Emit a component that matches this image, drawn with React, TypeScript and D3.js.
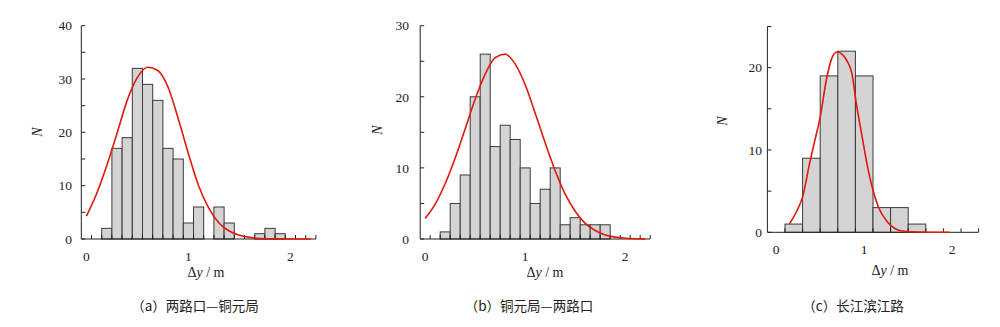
import React from "react";
import * as d3 from "d3";

// ---------- data ----------
const xTickLabels = [0, 1, 2];

const binStartA = 0.15;
const binWidthA = 0.1;
const countsA = [2, 17, 19, 32, 29, 26, 17, 15, 3, 6, 0, 6, 3, 0, 0, 1, 2, 1];
const curveAx = [0, 0.1, 0.2, 0.3, 0.4, 0.5, 0.6, 0.7, 0.8, 0.9, 1.0, 1.1, 1.2, 1.3, 1.4, 1.5, 1.6, 1.7, 1.8, 2.0, 2.2];
const curveAy = [4.3, 8.5, 13.8, 19.8, 26.0, 30.3, 32.2, 31.6, 28.5, 22.6, 16.0, 10.0, 5.8, 3.0, 1.5, 0.7, 0.3, 0.1, 0.05, 0, 0];
const yTicksA = [0, 10, 20, 30, 40];

const binStartB = 0.15;
const binWidthB = 0.1;
const countsB = [1, 5, 9, 20, 26, 13, 16, 14, 10, 5, 7, 10, 2, 3, 2, 2, 2];
const curveBx = [0, 0.1, 0.2, 0.3, 0.4, 0.5, 0.6, 0.7, 0.8, 0.9, 1.0, 1.1, 1.2, 1.3, 1.4, 1.5, 1.6, 1.7, 1.8, 1.9, 2.0, 2.1, 2.2];
const curveBy = [2.9, 4.9, 7.8, 11.4, 15.5, 19.7, 23.2, 25.5, 26.0, 24.6, 21.7, 17.7, 13.5, 9.6, 6.3, 3.9, 2.2, 1.2, 0.57, 0.26, 0.11, 0.04, 0.02];
const yTicksB = [0, 10, 20, 30];

const binStartC = 0.1;
const binWidthC = 0.2;
const countsC = [1, 9, 19, 22, 19, 3, 3, 1];
const curveCx = [0.15, 0.23, 0.3, 0.38, 0.44, 0.5, 0.57, 0.63, 0.69, 0.74, 0.8, 0.86, 0.91, 0.97, 1.03, 1.09, 1.16, 1.26, 1.37, 1.48, 1.6, 1.8, 1.97];
const curveCy = [1.0, 2.5, 4.3, 8.4, 11.2, 14.0, 18.5, 21.1, 21.9, 21.7, 20.9, 19.3, 15.7, 12.0, 8.4, 5.5, 3.1, 1.3, 0.35, 0.1, 0.03, 0, 0];
const yTicksC = [0, 10, 20];

const captions = ["（a）两路口—铜元局", "（b）铜元局—两路口", "（c）长江滨江路"];
const yTitle = "N";

// ---------- layout ----------
const SERIF = "Liberation Serif, Times New Roman, Times, serif";
const CJK = "Noto Sans CJK SC, Liberation Serif, serif";

interface PanelProps {
  xDomain: [number, number];
  xRange: [number, number];
  yMax: number;
  yRange: [number, number];
  binStart: number;
  binWidth: number;
  counts: number[];
  cx: number[];
  cy: number[];
  yTicks: number[];
  yLabelRight: number;
  yTitlePos: [number, number];
  xTitlePos: [number, number];
  caption: string;
  captionPos: [number, number];
  xLabelDy: number;
}

function Panel(p: PanelProps) {
  const x = d3.scaleLinear().domain(p.xDomain).range(p.xRange);
  const y = d3.scaleLinear().domain([0, p.yMax]).range(p.yRange);
  const x0 = p.xRange[0];
  const x1 = p.xRange[1];
  const yb = p.yRange[0];
  const yt = p.yRange[1];

  const bars = p.counts.map((c, i) => ({
    a: p.binStart + i * p.binWidth,
    b: p.binStart + (i + 1) * p.binWidth,
    c,
  }));

  const xMinor: number[] = [];
  for (let v = p.binStart - p.binWidth; v <= p.xDomain[1] + 1e-9; v += p.binWidth) {
    if (v > p.xDomain[0] + 1e-9) xMinor.push(v);
  }
  const yMinor = d3.range(0, p.yMax + 0.001, 5);

  const line = d3
    .line<number>()
    .x((_, i) => x(p.cx[i]))
    .y((d) => y(d))
    .curve(d3.curveMonotoneX);

  return (
    <g>
      {bars
        .filter((b) => b.c > 0)
        .map((b, i) => (
          <rect
            key={i}
            x={x(b.a)}
            y={y(b.c)}
            width={x(b.b) - x(b.a)}
            height={yb - y(b.c)}
            fill="#d4d4d4"
            stroke="#3a3a3a"
            strokeWidth={1}
          />
        ))}
      <line x1={x0} y1={yb} x2={x0} y2={yt} stroke="#222" strokeWidth={1} />
      <line x1={x0} y1={yb} x2={x1} y2={yb} stroke="#222" strokeWidth={1} />
      {yMinor.map((v) => (
        <line key={"yt" + v} x1={x0} x2={x0 + 4} y1={y(v)} y2={y(v)} stroke="#222" strokeWidth={1} />
      ))}
      {xMinor.map((v, i) => (
        <line key={"xt" + i} x1={x(v)} x2={x(v)} y1={yb} y2={yb - 4} stroke="#222" strokeWidth={1} />
      ))}
      {p.yTicks.map((v) => (
        <text
          key={"yl" + v}
          x={p.yLabelRight}
          y={y(v)}
          dy="0.35em"
          textAnchor="end"
          fontFamily={SERIF}
          fontSize={13.5}
          fill="#222"
        >
          {v}
        </text>
      ))}
      {xTickLabels.map((v) => (
        <text
          key={"xl" + v}
          x={x(v)}
          y={yb + p.xLabelDy}
          textAnchor="middle"
          fontFamily={SERIF}
          fontSize={13.5}
          fill="#222"
        >
          {v}
        </text>
      ))}
      <text
        x={p.xTitlePos[0]}
        y={p.xTitlePos[1]}
        textAnchor="middle"
        fontFamily={SERIF}
        fontSize={14}
        fill="#222"
      >
        Δ<tspan fontStyle="italic">y</tspan> / m
      </text>
      <text
        transform={`translate(${p.yTitlePos[0]},${p.yTitlePos[1]}) rotate(-90)`}
        textAnchor="middle"
        dy="0.35em"
        fontFamily={SERIF}
        fontStyle="italic"
        fontSize={14}
        fill="#222"
      >
        {yTitle}
      </text>
      <path d={line(p.cy) || ""} fill="none" stroke="#e3170a" strokeWidth={1.6} />
      <text
        x={p.captionPos[0]}
        y={p.captionPos[1]}
        textAnchor="middle"
        fontFamily={CJK}
        fontSize={13.5}
        fill="#222"
      >
        {p.caption}
      </text>
    </g>
  );
}

export default function App() {
  return (
    <svg
      width={1000}
      height={327}
      style={{ position: "absolute", left: 0, top: 0, background: "#fff" }}
    >
      <rect width={1000} height={327} fill="#fff" />
      <Panel
        xDomain={[-0.05, 2.25]}
        xRange={[81.3, 315.9]}
        yMax={40}
        yRange={[239, 25.7]}
        binStart={binStartA}
        binWidth={binWidthA}
        counts={countsA}
        cx={curveAx}
        cy={curveAy}
        yTicks={yTicksA}
        yLabelRight={72}
        yTitlePos={[37, 132]}
        xTitlePos={[206, 277]}
        caption={captions[0]}
        captionPos={[195, 311]}
        xLabelDy={21.5}
      />
      <Panel
        xDomain={[-0.05, 2.25]}
        xRange={[420.2, 650.2]}
        yMax={30}
        yRange={[239, 25.7]}
        binStart={binStartB}
        binWidth={binWidthB}
        counts={countsB}
        cx={curveBx}
        cy={curveBy}
        yTicks={yTicksB}
        yLabelRight={409}
        yTitlePos={[377, 130]}
        xTitlePos={[545, 277]}
        caption={captions[1]}
        captionPos={[529, 311]}
        xLabelDy={21.5}
      />
      <Panel
        xDomain={[-0.1, 2.3]}
        xRange={[767.4, 978.6]}
        yMax={25}
        yRange={[232.3, 26.5]}
        binStart={binStartC}
        binWidth={binWidthC}
        counts={countsC}
        cx={curveCx}
        cy={curveCy}
        yTicks={yTicksC}
        yLabelRight={762}
        yTitlePos={[722, 121]}
        xTitlePos={[890, 275]}
        caption={captions[2]}
        captionPos={[853, 311]}
        xLabelDy={21.5}
      />
    </svg>
  );
}
